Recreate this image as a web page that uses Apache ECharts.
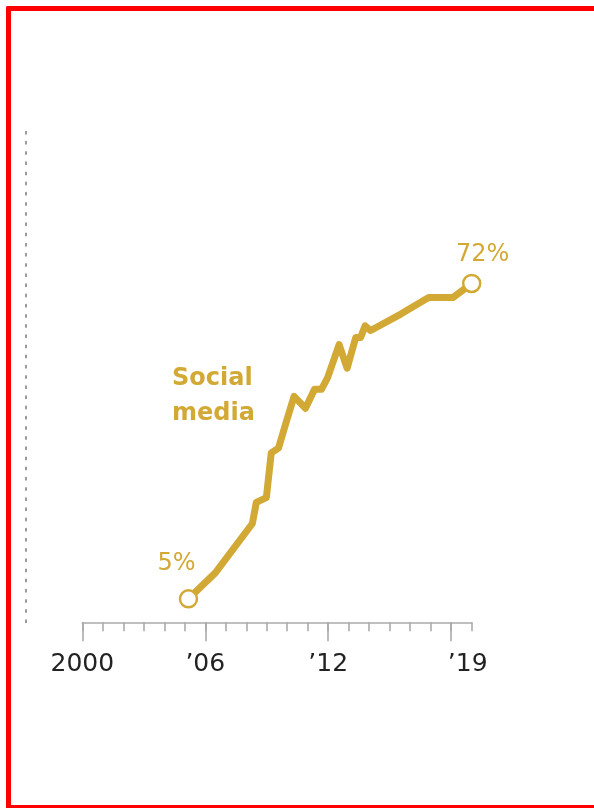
<!DOCTYPE html>
<html>
<head>
<meta charset="utf-8">
<script src="https://cdn.jsdelivr.net/npm/echarts@6/dist/echarts.min.js"></script>
<style>
  html, body { margin: 0; padding: 0; background: #ffffff; }
  #wrap { position: relative; width: 594px; height: 808px; overflow: hidden; }
  #chart { position: absolute; left: 0; top: 0; width: 594px; height: 808px; }
  #frame {
    position: absolute; left: 6px; top: 6px; width: 700px; height: 794px;
    border-top: 5px solid #ff0000; border-left: 5px solid #ff0000; border-bottom: 3px solid #ff0000;
    border-top-left-radius: 2px; pointer-events: none;
  }
</style>
</head>
<body>
<div id="wrap">
  <div id="chart"></div>
  <div id="frame"></div>
</div>
<script>
// Share of U.S. adults using social media, by survey date (fractional year)
const surveyYears = [2005.18, 2006.49, 2008.30, 2008.49, 2008.98, 2009.22, 2009.57, 2009.91,
  2010.33, 2010.89, 2011.33, 2011.67, 2011.97, 2012.53, 2012.92, 2013.34, 2013.58,
  2013.80, 2014.07, 2015.54, 2016.90, 2018.08, 2019.0];
const socialMedia = [5, 10.5, 21, 25.5, 26.5, 36, 37, 42, 48, 45.5, 49.5, 49.5, 52, 59, 54,
  60.5, 60.5, 63, 62, 65.5, 69, 69, 72];

// Labelled years on the time axis
const tickYears = [2000, 2006, 2012, 2019];
const tickText = ['2000', '\u201906', '\u201912', '\u201919'];

const yearStart = 2000;
const yearEnd = 2019;
const majorEnd = 2018;

const seriesName = 'Social\nmedia';
const gold = '#d3a935';
const fontFamily = '"DejaVu Sans"';

const lastIdx = socialMedia.length - 1;
const points = surveyYears.map((yr, i) => {
  const item = { value: [yr, socialMedia[i]] };
  if (i === 0 || i === lastIdx) {
    item.symbol = 'circle';
    item.symbolSize = 17;
    item.itemStyle = { color: '#ffffff', borderColor: gold, borderWidth: 2.5 };
    item.label = {
      show: true,
      position: 'top',
      offset: i === 0 ? [-12, -8] : [11, -2],
      formatter: p => p.value[1] + '%',
      color: gold,
      fontSize: 24,
      fontFamily: fontFamily
    };
  }
  return item;
});

const chart = echarts.init(document.getElementById('chart'), null, { renderer: 'canvas' });

const tickStyle = { color: '#ababab', width: 1.6 };
const plotLeft = 82.3;
const plotRight = 122.3;
const plotWidth = 594 - plotLeft - plotRight;
const yearWidth = plotWidth / (yearEnd - yearStart);
const plotBox = { left: plotLeft, right: plotRight, top: 123.5, bottom: 185.7 };
// overlay box ends at the last long-tick year, so its ticks line up with the year scale
const majorBox = Object.assign({}, plotBox, { right: plotRight + (yearEnd - majorEnd) * yearWidth });

chart.setOption({
  animation: false,
  backgroundColor: 'transparent',
  grid: [plotBox, majorBox],
  xAxis: [
    {
      gridIndex: 0, type: 'value', position: 'bottom', min: yearStart, max: yearEnd, interval: 1, offset: 1.5,
      splitLine: { show: false },
      axisLine: { show: true, lineStyle: tickStyle },
      axisTick: { show: true, length: 9, lineStyle: tickStyle },
      axisLabel: {
        show: true, margin: 28, color: '#222222', fontSize: 25, fontFamily: fontFamily,
        showMinLabel: true, showMaxLabel: true, hideOverlap: false,
        formatter: v => {
          const i = tickYears.indexOf(Math.round(v));
          if (i < 0) return '';
          return i === tickYears.length - 1 ? '{end|' + tickText[i] + '}' : tickText[i];
        },
        rich: {
          end: { color: '#222222', fontSize: 25, fontFamily: fontFamily, padding: [0, 8, 0, 0] }
        }
      }
    },
    {
      gridIndex: 1, type: 'value', position: 'bottom', min: yearStart, max: majorEnd, interval: 6, offset: 1.5,
      splitLine: { show: false },
      axisLine: { show: false },
      axisTick: { show: true, length: 19, lineStyle: tickStyle },
      axisLabel: { show: false }
    }
  ],
  yAxis: [
    {
      gridIndex: 0, type: 'value', min: 0, max: 106, position: 'left', offset: 56.3,
      splitLine: { show: false },
      axisTick: { show: false },
      axisLabel: { show: false },
      axisLine: { show: true, lineStyle: { color: '#9a9a9a', width: 2, type: [2, 8.18] } }
    },
    {
      gridIndex: 1, type: 'value', min: 0, max: 106, show: false
    }
  ],
  series: [{
    name: seriesName,
    type: 'line',
    xAxisIndex: 0,
    yAxisIndex: 0,
    data: points,
    symbol: 'none',
    showSymbol: true,
    clip: false,
    smooth: false,
    lineStyle: { color: gold, width: 7, join: 'round', cap: 'round' },
    itemStyle: { color: gold },
    z: 3
  }],
  graphic: [{
    type: 'text',
    left: 172,
    top: 361,
    style: {
      text: seriesName,
      fill: gold,
      font: 'bold 24px "DejaVu Sans"',
      lineHeight: 35
    }
  }]
});
</script>
</body>
</html>
